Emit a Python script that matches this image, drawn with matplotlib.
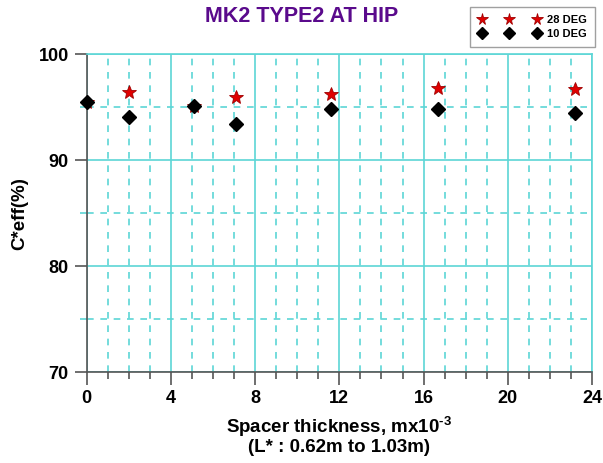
import matplotlib
matplotlib.use('Agg')
import matplotlib.pyplot as plt
from matplotlib.ticker import MultipleLocator

plt.rcParams['font.family'] = ['Liberation Sans', 'DejaVu Sans']
plt.rcParams['font.weight'] = 'bold'
plt.rcParams['mathtext.fontset'] = 'custom'
plt.rcParams['mathtext.rm'] = 'Liberation Sans:bold'

# spacer thickness (mm) and efficiency values
spacer = [0, 2, 5.1, 7.1, 11.6, 16.7, 23.2]
ceff_28deg = [95.5, 96.4, 95.1, 96.0, 96.3, 96.8, 96.7]
ceff_10deg = [95.5, 94.1, 95.1, 93.4, 94.8, 94.8, 94.5]

grid_c = '#5cd6d6'
axis_c = '#555555'

fig = plt.figure(figsize=(6.03, 4.63), dpi=100)
ax = fig.add_axes([0.1438, 0.1959, 0.9818 - 0.1438, 0.8827 - 0.1959])

ax.set_xlim(0, 24)
ax.set_ylim(70, 100)
ax.xaxis.set_major_locator(MultipleLocator(4))
ax.xaxis.set_minor_locator(MultipleLocator(1))
ax.yaxis.set_major_locator(MultipleLocator(10))
ax.yaxis.set_minor_locator(MultipleLocator(5))

ax.grid(which='major', color=grid_c, lw=1.2, ls='-')
ax.grid(which='minor', color=grid_c, lw=1.2, ls=(0, (4, 4)))
ax.set_axisbelow(True)

ax.plot(spacer, ceff_28deg, ls='none', marker='*', ms=10.5, mfc='#e00000',
        mec='#a00000', mew=0.6, label='28 DEG', zorder=3)
ax.plot(spacer, ceff_10deg, ls='none', marker='D', ms=7.5, mfc='black',
        mec='black', label='10 DEG', zorder=4, clip_on=False)

for s in ['top', 'right']:
    ax.spines[s].set_color(grid_c)
    ax.spines[s].set_linewidth(1.2)
for s in ['left', 'bottom']:
    ax.spines[s].set_color(axis_c)
    ax.spines[s].set_linewidth(1.2)

ax.tick_params(which='major', length=9, width=1.2, color=axis_c,
               labelsize=13, pad=4)
ax.tick_params(which='minor', length=5, width=1.2, color=axis_c)
ax.tick_params(axis='y', which='minor', color=grid_c)

ax.set_xlabel('Spacer thickness, mx10$^{\\text{-3}}$\n(L* : 0.62m to 1.03m)',
              fontsize=13.5, fontweight='bold', labelpad=5, linespacing=1.0)
ax.set_ylabel('C*eff(%)', fontsize=13.5, fontweight='bold', labelpad=7)

fig.text(0.5, 0.965, 'MK2 TYPE2 AT HIP', ha='center', va='center',
         fontsize=15.5, fontweight='bold', color='#5a0a8c')

leg = fig.legend(loc='upper right', bbox_to_anchor=(0.99, 0.99),
                 numpoints=3, handlelength=5.5, handletextpad=0.6,
                 markerscale=0.8, fontsize=8, fancybox=False,
                 edgecolor='#888888', borderpad=0.75, labelspacing=0.35,
                 borderaxespad=0.2)
leg.get_frame().set_linewidth(1.0)

plt.savefig('out.png', dpi=100)
